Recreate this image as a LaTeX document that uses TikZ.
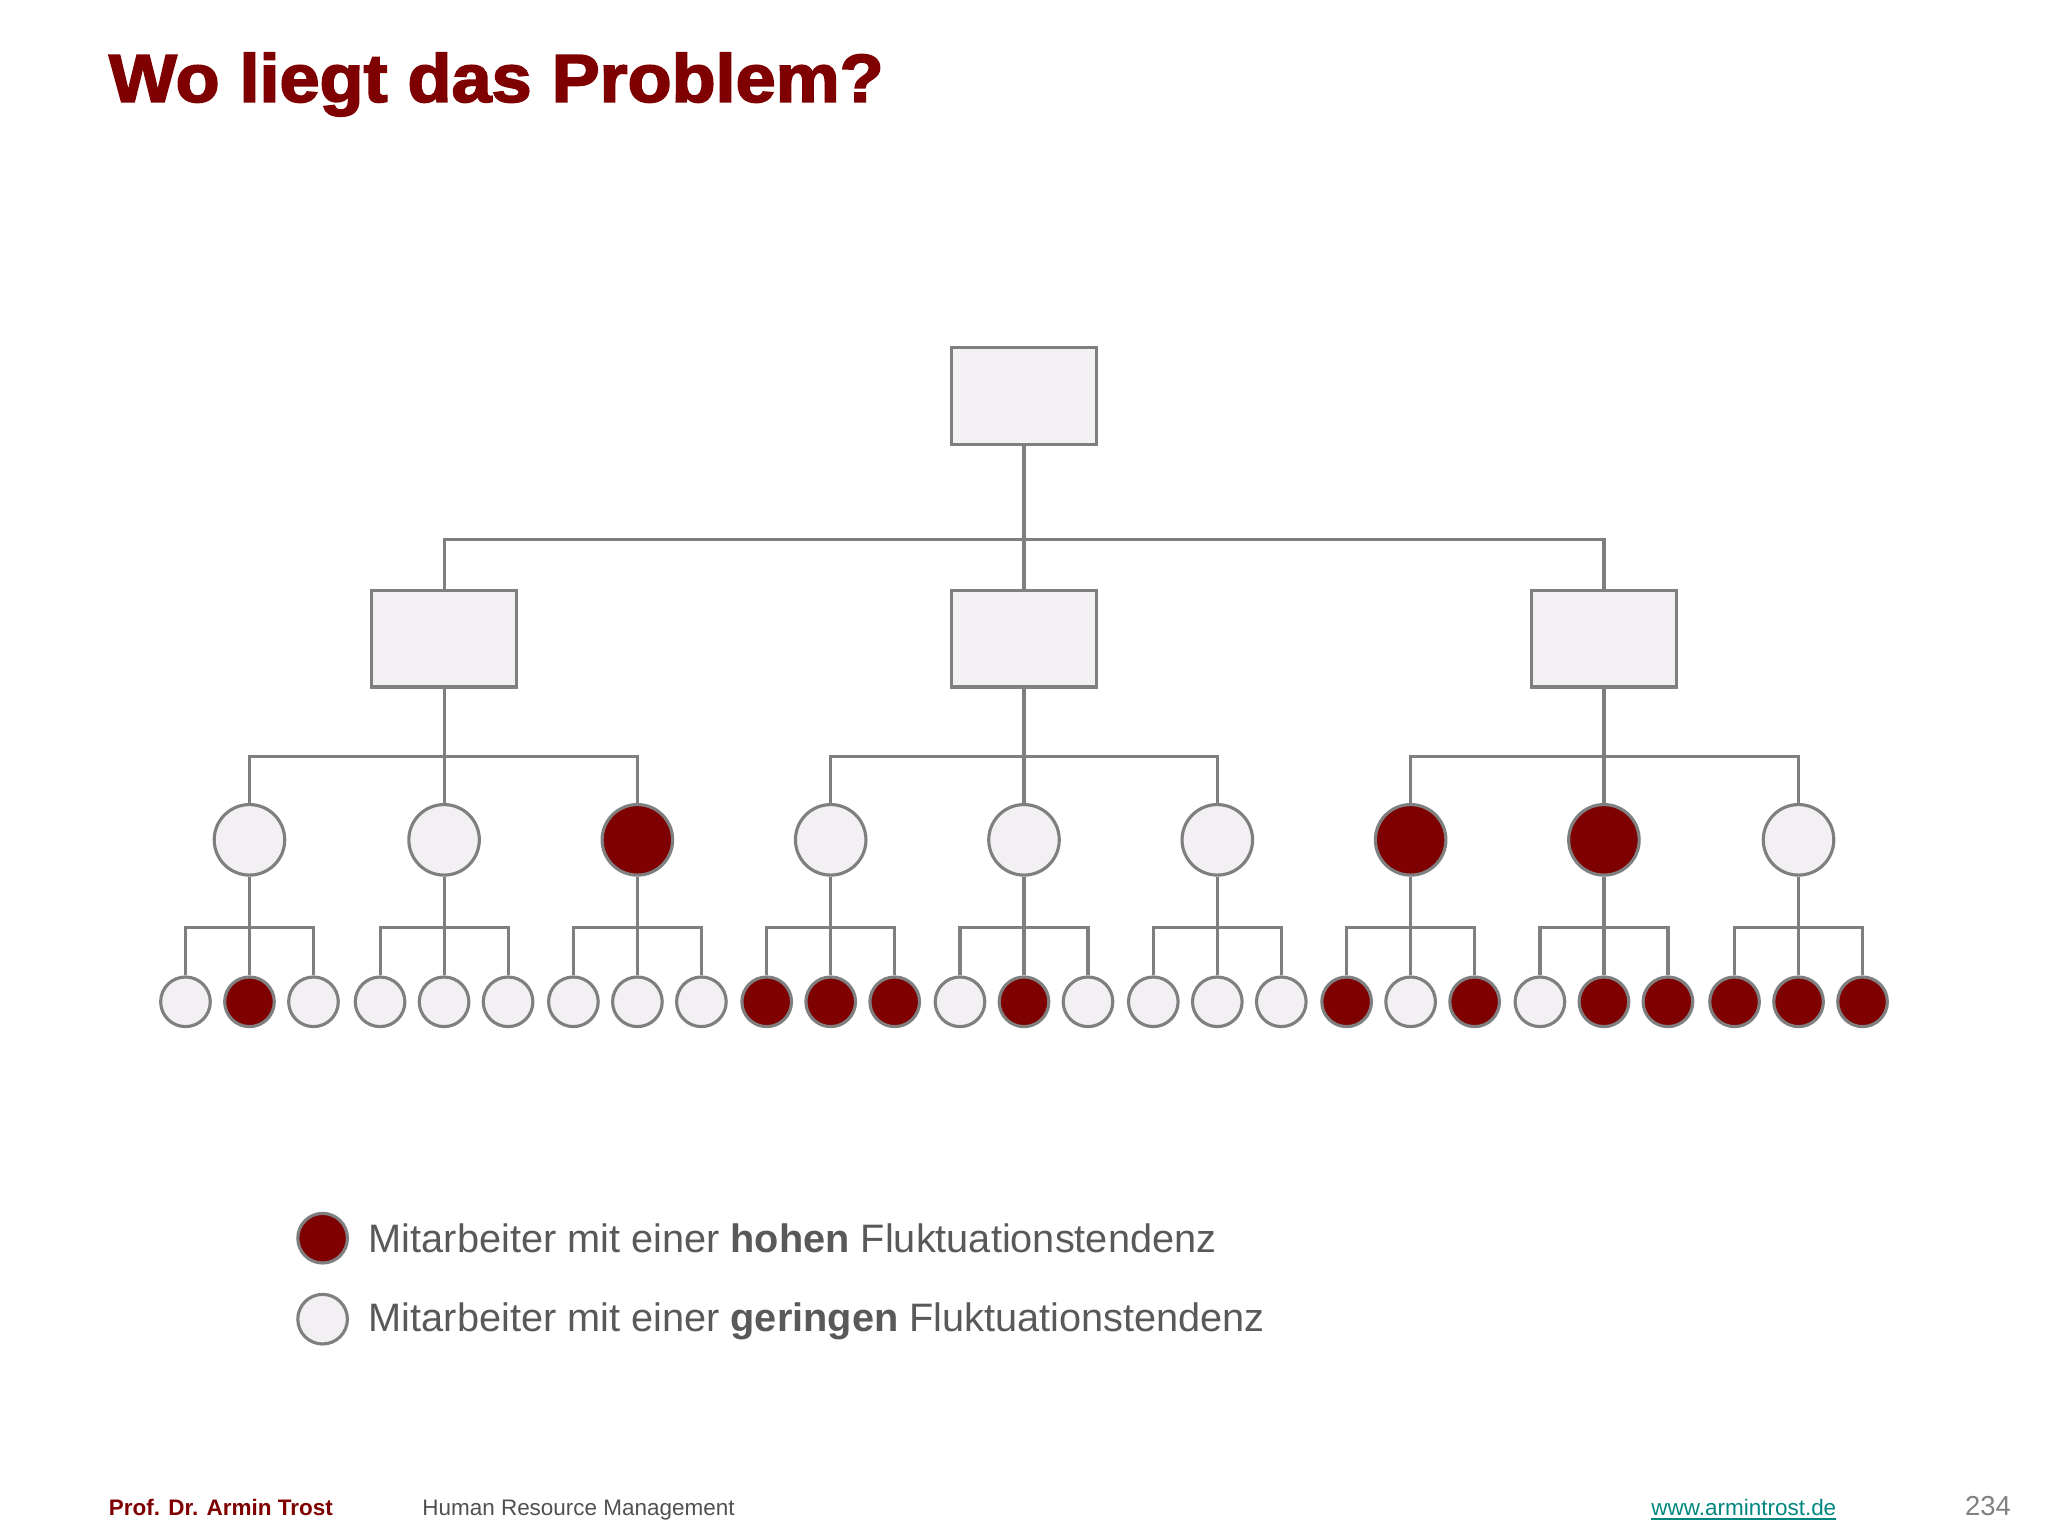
\documentclass[tikz,border=0pt]{standalone}
\usepackage{fontspec}
\setmainfont{Liberation Sans}
\newfontfamily\heavyfont[FakeBold=2.5]{Liberation Sans Bold}
\usepackage{xcolor}
\definecolor{dred}{HTML}{7F0000}
\definecolor{lgray}{HTML}{F2F0F2}
\definecolor{sgray}{HTML}{7F7F7F}
\definecolor{tgray}{HTML}{595959}
\definecolor{teal2}{HTML}{00877F}
\begin{document}
\begin{tikzpicture}[x=0.5pt,y=-0.5pt,
  orgbox/.style={draw=sgray,line width=1.2pt,fill=lgray,minimum width=55.5pt,minimum height=37pt,inner sep=0},
  lo/.style={circle,draw=sgray,line width=1.2pt,fill=lgray,inner sep=0},
  hi/.style={circle,draw=sgray,line width=1.2pt,fill=dred,inner sep=0},
  mid/.style={minimum size=27pt},
  leaf/.style={minimum size=19pt},
  conn/.style={draw=sgray,line width=1.2pt}]
\useasboundingbox (0,0) rectangle (1568,1176);
\node[anchor=base west,inner sep=0,text=dred,font=\heavyfont\fontsize{26}{30}\selectfont] (title) at (83,78) {\scalebox{1.06}[1]{Wo liegt das Problem?}};
\node[orgbox] (top) at (784,303) {};
\foreach \i/\x in {1/340,2/784,3/1228}{
  \node[orgbox] (b\i) at (\x,489) {};
  \draw[conn] (top.south) |- (784,413) -| (b\i.north);
}
\foreach \j/\x/\p/\c/\la/\lb/\lc in {1/191/1/lo/lo/hi/lo, 2/340/1/lo/lo/lo/lo, 3/488/1/hi/lo/lo/lo,
  4/636/2/lo/hi/hi/hi, 5/784/2/lo/lo/hi/lo, 6/932/2/lo/lo/lo/lo,
  7/1080/3/hi/hi/lo/hi, 8/1228/3/hi/lo/hi/hi, 9/1377/3/lo/hi/hi/hi}{
  \node[\c,mid] (m\j) at (\x,643) {};
  \draw[conn] (b\p.south) |- (\x,579) -- (m\j.north);
  \node[\la,leaf] (l\j a) at (\x-49,767) {};
  \node[\lb,leaf] (l\j b) at (\x,767) {};
  \node[\lc,leaf] (l\j c) at (\x+49,767) {};
  \draw[conn] (m\j.south) -- (l\j b.north);
  \draw[conn] (l\j a.north) |- (\x,710) -| (l\j c.north);
}
\node[hi,leaf] (k1) at (247,948) {};
\node[lo,leaf] (k2) at (247,1010) {};
\node[anchor=west,inner sep=0,text=tgray,font=\fontsize{15.2}{18}\selectfont] (t1) at (282,948) {Mitarbeiter mit einer \textbf{hohen} Fluktuationstendenz};
\node[anchor=west,inner sep=0,text=tgray,font=\fontsize{15.2}{18}\selectfont] (t2) at (282,1012) {Mitarbeiter mit einer \textbf{geringen} Fluktuationstendenz};
\node[anchor=base west,text=dred,font=\bfseries\fontsize{8.6}{10}\selectfont,inner sep=0] (f1) at (83,1160) {Prof. Dr. Armin Trost};
\node[anchor=base west,text=tgray!90!black,font=\fontsize{8.6}{10}\selectfont,inner sep=0] (f2) at (323,1160) {Human Resource Management};
\node[anchor=base west,text=teal2,font=\fontsize{8.6}{10}\selectfont,inner sep=0] (f3) at (1264,1160) {\underline{www.armintrost.de}};
\node[anchor=base east,text=gray,font=\fontsize{10.5}{12}\selectfont,inner sep=0] (f4) at (1540,1160) {234};
\end{tikzpicture}
\end{document}
